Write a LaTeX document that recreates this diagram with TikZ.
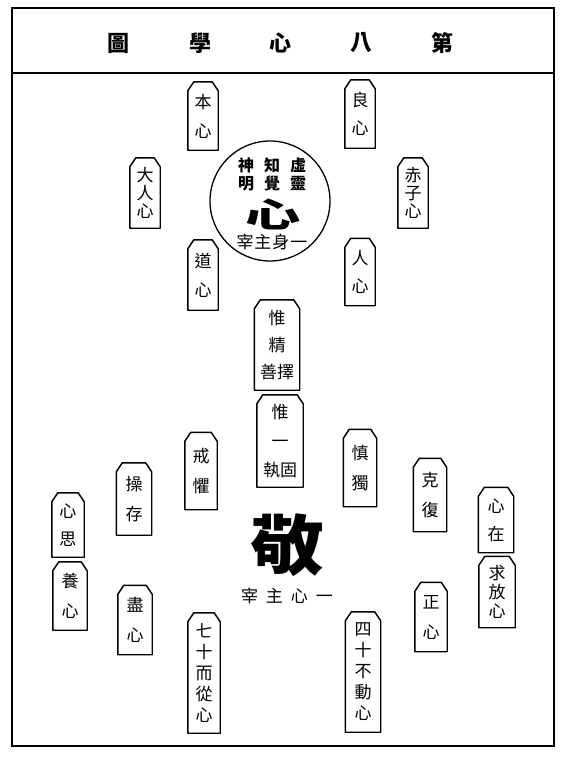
\documentclass[tikz,border=0pt]{standalone}
\usepackage{fontspec}
\usepackage{graphicx}
\newfontfamily\cjk{Noto Sans CJK TC}
\tikzset{
  tagtext/.style={inner sep=0pt, align=center},
  tagline/.style={line width=1.4pt, line join=round},
  frameline/.style={line width=1.5pt},
  titlech/.style={inner sep=0pt, font=\cjk\bfseries\fontsize{22pt}{22pt}\selectfont},
  circtext/.style={inner sep=0pt, align=center, font=\cjk\bfseries\fontsize{16pt}{18pt}\selectfont},
  rowtext/.style={inner sep=0pt, font=\cjk\fontsize{17pt}{17pt}\selectfont},
}
\newcommand\mytag[7]{%
  \node[tagtext, minimum width=#4pt, minimum height=#5pt, font=\cjk\fontsize{17pt}{#6pt}\selectfont] (#1) at (#2,#3) {#7};
  \draw[tagline] (#1.south west) -- ([yshift=-9pt]#1.north west) -- ([xshift=6pt]#1.north west) -- ([xshift=-6pt]#1.north east) -- ([yshift=-9pt]#1.north east) -- (#1.south east) -- cycle;
}
\begin{document}
\begin{tikzpicture}[x=1pt,y=-1pt]
\useasboundingbox (0,0) rectangle (567,772);
% frame
\draw[frameline] (12,8) rectangle (554,746);
\draw[frameline] (12,73) -- (554,73);
% title
\node[titlech] (t1) at (118,43) {圖};
\node[titlech] (t2) at (200,43) {學};
\node[titlech] (t3) at (280,43) {心};
\node[titlech] (t4) at (361,43) {八};
\node[titlech] (t5) at (442,43) {第};
% circle
\node[draw, circle, line width=1.3pt, minimum size=120pt, inner sep=0pt] (heart) at (270,201) {};
\node[circtext] (c1) at (298,174) {虛\\靈};
\node[circtext] (c2) at (272,174) {知\\覺};
\node[circtext] (c3) at (246,174) {神\\明};
\node[inner sep=0pt, font=\cjk\bfseries\fontsize{48pt}{48pt}\selectfont] (bigxin) at (273,214) {\scalebox{1.15}[0.7]{心}};
\node[rowtext] (c4) at (272,242) {宰\hspace{1pt}主\hspace{1pt}身\hspace{1pt}一};
% jing
\node[inner sep=0pt, font=\cjk\bfseries\fontsize{66pt}{66pt}\selectfont] (jing) at (287,545) {\scalebox{1.12}[1]{敬}};
\node[rowtext] (j2) at (287,596) {宰\hspace{8pt}主\hspace{8pt}心\hspace{8pt}一};
% tags
\mytag{benxin}{203}{116}{30}{68}{29}{本\\心}
\mytag{liangxin}{360}{114}{30}{68}{28}{良\\心}
\mytag{darenxin}{145}{193}{30}{70}{18}{大\\人\\心}
\mytag{chizixin}{413}{193}{30}{70}{18}{赤\\子\\心}
\mytag{daoxin}{203}{275}{30}{70}{29}{道\\心}
\mytag{renxin}{360}{272}{30}{67}{28}{人\\心}
\mytag{weijing}{277}{345}{45}{90}{27}{惟\\精\\善擇}
\mytag{weiyi}{280}{441}{46}{92}{29}{惟\\一\\執固}
\mytag{jieju}{201}{471}{32}{77}{30}{戒\\懼}
\mytag{caocun}{134}{499}{35}{72}{30}{操\\存}
\mytag{xinsi}{68}{525}{32}{64}{28}{心\\思}
\mytag{yangxin}{70}{596}{34}{68}{30}{養\\心}
\mytag{jinxin}{135}{620}{34}{69}{30}{盡\\心}
\mytag{qishi}{204}{673}{32}{120}{21}{七\\十\\而\\從\\心}
\mytag{shendu}{360}{468}{33}{77}{30}{慎\\獨}
\mytag{kefu}{430}{495}{33}{73}{30}{克\\復}
\mytag{xinzai}{496}{520}{35}{65}{28}{心\\在}
\mytag{qiufang}{497}{592}{36}{71}{19}{求\\放\\心}
\mytag{zhengxin}{431}{617}{32}{69}{30}{正\\心}
\mytag{sishi}{363}{672}{35}{120}{21}{四\\十\\不\\動\\心}
\end{tikzpicture}
\end{document}
